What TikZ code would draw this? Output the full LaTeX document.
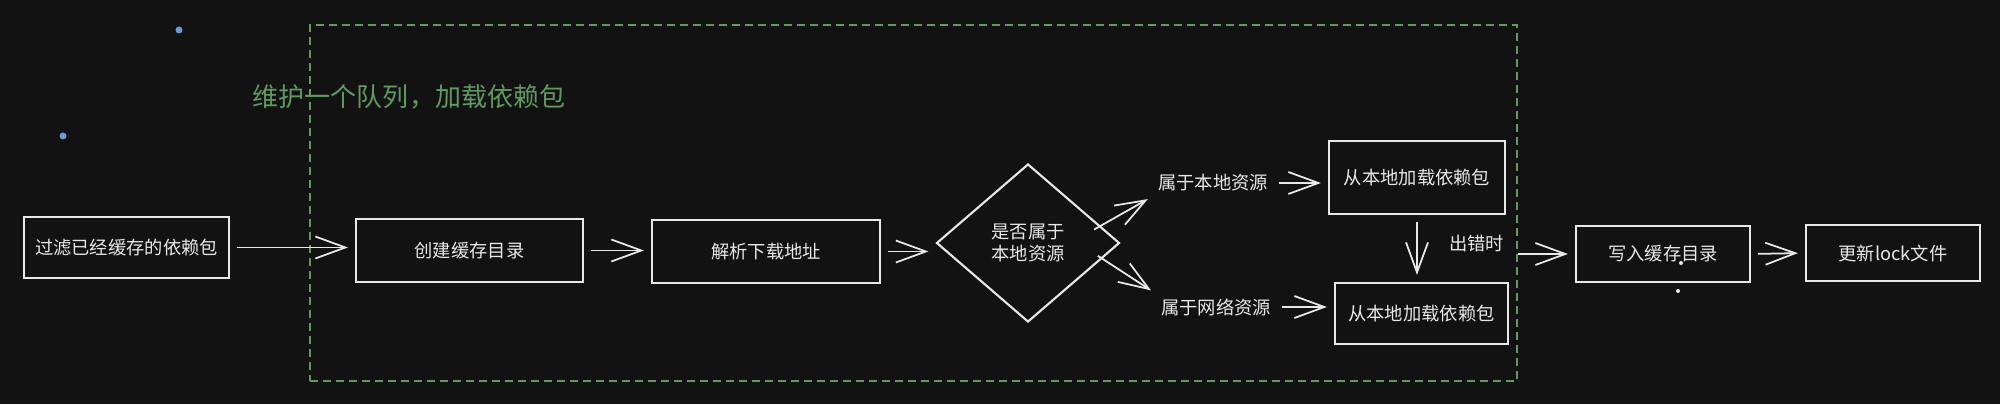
\documentclass[tikz,border=0pt]{standalone}
\usepackage{fontspec}
\setmainfont{Noto Sans CJK SC}
\usetikzlibrary{shapes.geometric,arrows.meta}
\definecolor{bgdark}{HTML}{121212}
\definecolor{queuegreen}{HTML}{5E9C5E}
\definecolor{dotblue}{HTML}{6A98D8}
\definecolor{inkwhite}{HTML}{E8E8E8}

\begin{document}
\begin{tikzpicture}[
		font=\fontsize{5.2pt}{6.5pt}\selectfont,
		box/.style={draw=inkwhite,line width=0.6pt,text=inkwhite,inner sep=0pt},
		lbl/.style={text=inkwhite,inner sep=1pt},
		arr/.style={draw=inkwhite,line width=0.5pt,shorten <=2pt,shorten >=2pt,
		-{Straight Barb[length=0.3cm,width=0.22cm]}}
	]

		\fill[bgdark] (0,0) rectangle (20,4.04);
		\useasboundingbox (0,0) rectangle (20,4.04);

		\fill[dotblue] (1.79,3.74) circle (0.035);
		\fill[dotblue] (0.63,2.68) circle (0.035);

		\node (queue) at (9.135,2.01) [draw=queuegreen,line width=0.6pt,dash pattern=on 0.08cm off 0.05cm,
		minimum width=12.07cm, minimum height=3.56cm] {};
		\node (queuetitle) at (4.09,3.07) [text=queuegreen,font=\fontsize{7.4pt}{9pt}\selectfont] {维护一个队列，加载依赖包};

		\node (filter) at (1.265,1.565) [box,minimum width=2.05cm,minimum height=0.61cm] {过滤已经缓存的依赖包};
		\node (mkdir) at (4.695,1.535) [box,minimum width=2.27cm,minimum height=0.63cm] {创建缓存目录};
		\node (parse) at (7.66,1.525) [box,minimum width=2.28cm,minimum height=0.63cm] {解析下载地址};
		\node (islocal) at (10.28,1.61) [box,diamond,aspect=1.16,minimum width=1.83cm,
		minimum height=1.58cm,align=center] {是否属于\\本地资源};

		\node (local) at (12.13,2.21) [lbl] {属于本地资源};
		\node (remote) at (12.16,0.97) [lbl] {属于网络资源};
		\node (fromlocal) at (14.17,2.265) [box,minimum width=1.76cm,minimum height=0.73cm] {从本地加载依赖包};
		\node (fromnet) at (14.215,0.905) [box,minimum width=1.73cm,minimum height=0.61cm] {从本地加载依赖包};
		\node (onerr) at (14.765,1.60) [lbl] {出错时};

		\node (write) at (16.63,1.50) [box,minimum width=1.74cm,minimum height=0.56cm] {写入缓存目录};
		\node (lockfile) at (18.93,1.51) [box,minimum width=1.74cm,minimum height=0.56cm] {更新lock文件};

		\fill[inkwhite] (16.81,1.41) circle (0.02);
		\fill[inkwhite] (16.78,1.13) circle (0.02);

		\draw[arr] (filter.east) -- (filter.east -| mkdir.west);
		\draw[arr] (mkdir.east) -- (mkdir.east -| parse.west);
		\draw[arr] (parse.east) -- (parse.east -| islocal.west);
		\draw[arr] ([shift={(0.6,0.1)}]islocal.center) -- (local.south west);
		\draw[arr] ([shift={(0.64,-0.09)}]islocal.center) -- (remote.north west);
		\draw[arr] (local.east) -- (local.east -| fromlocal.west);
		\draw[arr] (remote.east) -- (remote.east -| fromnet.west);
		\draw[arr] (fromlocal.south) -- (fromlocal.south |- fromnet.north);
		\draw[arr,shorten <=0pt] (queue.east |- write.west) -- (write.west);
		\draw[arr] (write.east) -- (lockfile.west);

\end{tikzpicture}
\end{document}
